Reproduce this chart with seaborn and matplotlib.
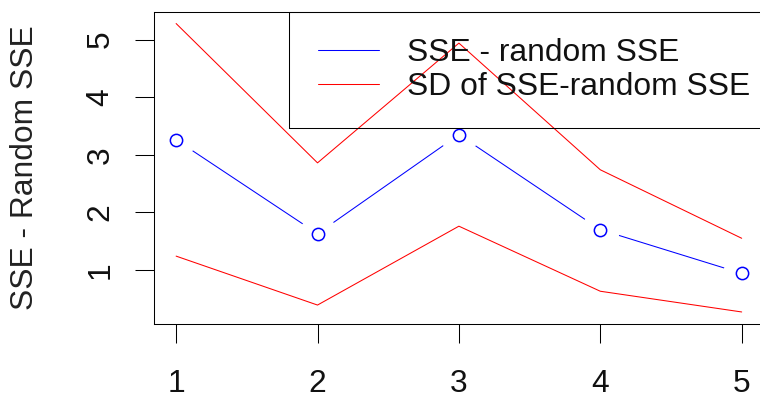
import numpy as np
import pandas as pd
import matplotlib
matplotlib.use("Agg")
import matplotlib.pyplot as plt
from matplotlib.lines import Line2D
from matplotlib.patches import Rectangle
import seaborn as sns

# ---- data ----
x_vals = [1, 2, 3, 4, 5]
sse_diff = [3.26, 1.63, 3.35, 1.70, 0.94]
sd_upper = [5.28, 2.86, 4.94, 2.74, 1.55]
sd_lower = [1.24, 0.39, 1.76, 0.63, 0.27]
x_ticks = [1, 2, 3, 4, 5]
y_ticks = [1, 2, 3, 4, 5]
legend_labels = ["SSE - random SSE", "SD of SSE-random SSE"]
y_label = "SSE - Random SSE"

df = pd.DataFrame({"x": x_vals, "diff": sse_diff, "up": sd_upper, "lo": sd_lower})

sns.set_style("white")
plt.rcParams["font.family"] = ["Liberation Sans", "DejaVu Sans"]
FS = 22.9
BLUE = "#0000FF"
RED = "#FF0000"
LW = 0.75

fig = plt.figure(figsize=(7.6, 3.97), dpi=100)
W, H = 760, 397
left_px, right_px, top_px, bot_px = 153.5, 764.3, 12.0, 323.5
ax = fig.add_axes([left_px / W, (H - bot_px) / H,
                   (right_px - left_px) / W, (bot_px - top_px) / H])
ax.set_facecolor("white")

# blue line with gaps around points (R type="b")
sns.lineplot(data=df, x="x", y="diff", ax=ax, color=BLUE, linewidth=LW, zorder=2)
ax.plot(df["x"], df["diff"], linestyle="none", marker="o", markersize=26.6,
        markerfacecolor="white", markeredgecolor="white", zorder=2.1)
ax.plot(df["x"], df["diff"], linestyle="none", marker="o", markersize=8.85,
        markerfacecolor="none", markeredgecolor=BLUE, markeredgewidth=1.1, zorder=2.2)

# red SD band lines
sns.lineplot(data=df, x="x", y="up", ax=ax, color=RED, linewidth=LW, zorder=2.3)
sns.lineplot(data=df, x="x", y="lo", ax=ax, color=RED, linewidth=LW, zorder=2.3)

# R-style 4% axis expansion
ymin = min(df["lo"].min(), df["diff"].min())
ymax = max(df["up"].max(), df["diff"].max())
r = ymax - ymin
ax.set_ylim(ymin - 0.04 * r, ymax + 0.04 * r)
xr = max(x_vals) - min(x_vals)
ax.set_xlim(min(x_vals) - 0.04 * xr, max(x_vals) + 0.04 * xr)

ax.set_xticks(x_ticks)
ax.set_xticklabels([str(t) for t in x_ticks], fontsize=FS)
ax.set_yticks(y_ticks)
ax.set_yticklabels([str(t) for t in y_ticks], fontsize=FS, rotation=90, va="center")
ax.tick_params(axis="both", direction="out", length=13.5, width=LW, color="black",
               labelcolor="#111111", bottom=True, left=True, top=False, right=False)
ax.tick_params(axis="x", pad=19)
ax.tick_params(axis="y", pad=13.7)

for s in ax.spines.values():
    s.set_visible(True)
    s.set_color("black")
    s.set_linewidth(LW)

ax.set_xlabel("")
ax.set_ylabel(y_label, fontsize=FS, color="#222222", va="baseline",
              rotation=90, rotation_mode="anchor")
ax.yaxis.set_label_coords((33.3 - left_px) / (right_px - left_px), 0.5)

# legend: frame drawn as rectangle, entries placed inside
aw = right_px - left_px
ah = bot_px - top_px
box_l = (289.3 - left_px) / aw
box_b = (bot_px - 127.7) / ah
ax.add_patch(Rectangle((box_l, box_b), 1.2 - box_l, 1.0 - box_b, transform=ax.transAxes,
                       fill=False, edgecolor="black", linewidth=LW, clip_on=False, zorder=5))
handles = [Line2D([0], [0], color=BLUE, linewidth=LW),
           Line2D([0], [0], color=RED, linewidth=LW)]
leg = ax.legend(handles, legend_labels, loc="center left",
                bbox_to_anchor=((318.3 - left_px) / aw, (bot_px - 70.0) / ah),
                frameon=False, fontsize=FS, borderpad=0, borderaxespad=0,
                handlelength=1.91, handletextpad=0.87, labelspacing=0.11)
for t in leg.get_texts():
    t.set_color("#111111")

fig.savefig("out.png", dpi=100)
